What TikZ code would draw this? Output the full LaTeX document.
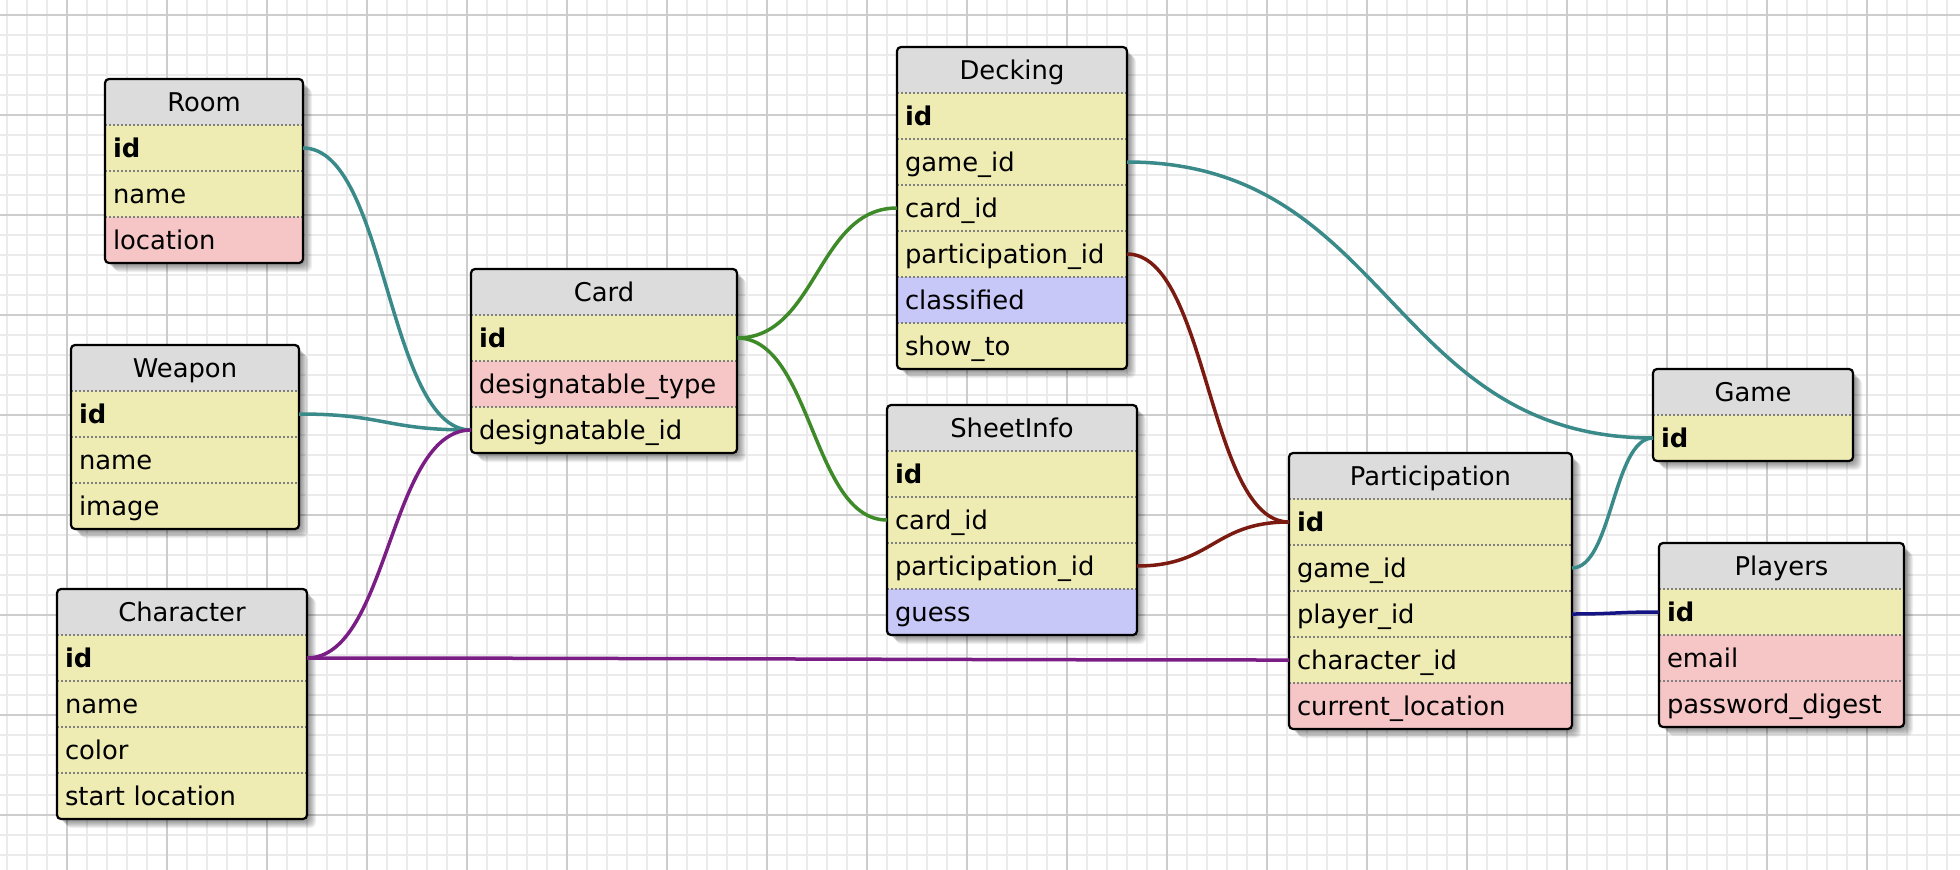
\documentclass[tikz,border=0pt]{standalone}
\usepackage{fontspec}
\setmainfont{DejaVu Sans}
\definecolor{hdrgray}{HTML}{DCDCDC}
\definecolor{yel}{HTML}{EFECB3}
\definecolor{pnk}{HTML}{F6C6C6}
\definecolor{blu}{HTML}{C8C8F8}
\definecolor{minorc}{HTML}{EBEBEB}
\definecolor{majorc}{HTML}{CDCDCD}
\definecolor{sepc}{HTML}{808080}
\definecolor{tealc}{HTML}{3A8A8A}
\definecolor{greenc}{HTML}{3F8A28}
\definecolor{redc}{HTML}{7B1A10}
\definecolor{purc}{HTML}{7A1E86}
\definecolor{navyc}{HTML}{141484}
\tikzset{
  hdrbox/.style={rectangle, anchor=north west, fill=hdrgray, minimum height=46pt,
    inner sep=0pt, outer sep=0pt, text height=20.6pt, text depth=1.6pt},
  fldbox/.style={rectangle, anchor=north west, minimum height=46pt, inner xsep=8pt,
    inner ysep=0pt, outer sep=0pt, align=left, text height=20.6pt, text depth=1.6pt},
  sepline/.style={draw=sepc, line width=2pt, dash pattern=on 2pt off 2pt},
  tabborder/.style={draw=black, line width=2.2pt, rounded corners=4pt},
  conn/.style={line width=3.5pt},
  minorline/.style={draw=minorc, line width=1.5pt},
  majorline/.style={draw=majorc, line width=2pt},
}
\newcommand{\ertab}[7]{%
  \pgfmathsetmacro{\tabh}{46*(#7+1)}%
  \pgfmathsetmacro{\tabtw}{#4-16}%
  \foreach \s in {1,...,9}{%
    \fill[black, opacity=0.06, rounded corners=6pt] ({#2+\s},{#3+\s}) rectangle ++(#4,\tabh);
  }%
  \begin{scope}
    \clip[rounded corners=4pt] (#2,#3) rectangle ++(#4,\tabh);
    \node[hdrbox, minimum width=#4pt] (#1) at (#2,#3) {#5};
    \foreach [count=\i] \rk/\rt/\rc in {#6}{%
      \node[fldbox, fill=\rc, text width=\tabtw pt] (#1-\rk) at (#2,{#3+46*\i}) {\rt};
      \draw[sepline] (#1-\rk.north west) -- (#1-\rk.north east);
    }%
  \end{scope}
  \draw[tabborder] (#2,#3) rectangle ++(#4,\tabh);
}
\begin{document}
\begin{tikzpicture}[x=1pt, y=-1pt, every node/.style={font=\fontsize{25.8}{30}\selectfont}]
\useasboundingbox (0,0) rectangle (1960,870);
\fill[white] (0,0) rectangle (1960,870);
% grid
\foreach \x in {7,27,...,1960} \draw[minorline] (\x,0) -- (\x,870);
\foreach \y in {15,35,...,870} \draw[minorline] (0,\y) -- (1960,\y);
\foreach \x in {67,167,...,1960} \draw[majorline] (\x,0) -- (\x,870);
\foreach \y in {15,115,...,870} \draw[majorline] (0,\y) -- (1960,\y);
% tables
\ertab{room}{105}{79}{198}{Room}{id/{\bfseries id}/yel, name/name/yel, location/location/pnk}{3}
\ertab{weapon}{71}{345}{228}{Weapon}{id/{\bfseries id}/yel, name/name/yel, image/image/yel}{3}
\ertab{char}{57}{589}{250}{Character}{id/{\bfseries id}/yel, name/name/yel, color/color/yel, start/start location/yel}{4}
\ertab{card}{471}{269}{266}{Card}{id/{\bfseries id}/yel, dtype/designatable\_type/pnk, did/designatable\_id/yel}{3}
\ertab{deck}{897}{47}{230}{Decking}{id/{\bfseries id}/yel, gameid/game\_id/yel, cardid/card\_id/yel, partid/participation\_id/yel, classified/classified/blu, showto/show\_to/yel}{6}
\ertab{sheet}{887}{405}{250}{SheetInfo}{id/{\bfseries id}/yel, cardid/card\_id/yel, partid/participation\_id/yel, guess/guess/blu}{4}
\ertab{part}{1289}{453}{283}{Participation}{id/{\bfseries id}/yel, gameid/game\_id/yel, playerid/player\_id/yel, charid/character\_id/yel, curloc/current\_location/pnk}{5}
\ertab{game}{1653}{369}{200}{Game}{id/{\bfseries id}/yel}{1}
\ertab{players}{1659}{543}{245}{Players}{id/{\bfseries id}/yel, email/email/pnk, pw/password\_digest/pnk}{3}
% connectors
\draw[conn, tealc] (room-id.east) .. controls +(84,0) and +(-84,0) .. (card-did.west);
\draw[conn, tealc] (weapon-id.east) .. controls +(86,0) and +(-86,0) .. (card-did.west);
\draw[conn, purc] (char-id.east) .. controls +(82,0) and +(-82,0) .. (card-did.west);
\draw[conn, purc] (char-id.east) .. controls +(300,0) and +(-300,0) .. (part-charid.west);
\draw[conn, greenc] (card-id.east) .. controls +(80,0) and +(-80,0) .. (deck-cardid.west);
\draw[conn, greenc] (card-id.east) .. controls +(75,0) and +(-75,0) .. (sheet-cardid.west);
\draw[conn, tealc] (deck-gameid.east) .. controls +(263,0) and +(-263,0) .. (game-id.west);
\draw[conn, redc] (deck-partid.east) .. controls +(81,0) and +(-81,0) .. (part-id.west);
\draw[conn, redc] (sheet-partid.east) .. controls +(76,0) and +(-76,0) .. (part-id.west);
\draw[conn, tealc] (part-gameid.east) .. controls +(40,0) and +(-40,0) .. (game-id.west);
\draw[conn, navyc] (part-playerid.east) .. controls +(43,0) and +(-43,0) .. (players-id.west);
\end{tikzpicture}
\end{document}
